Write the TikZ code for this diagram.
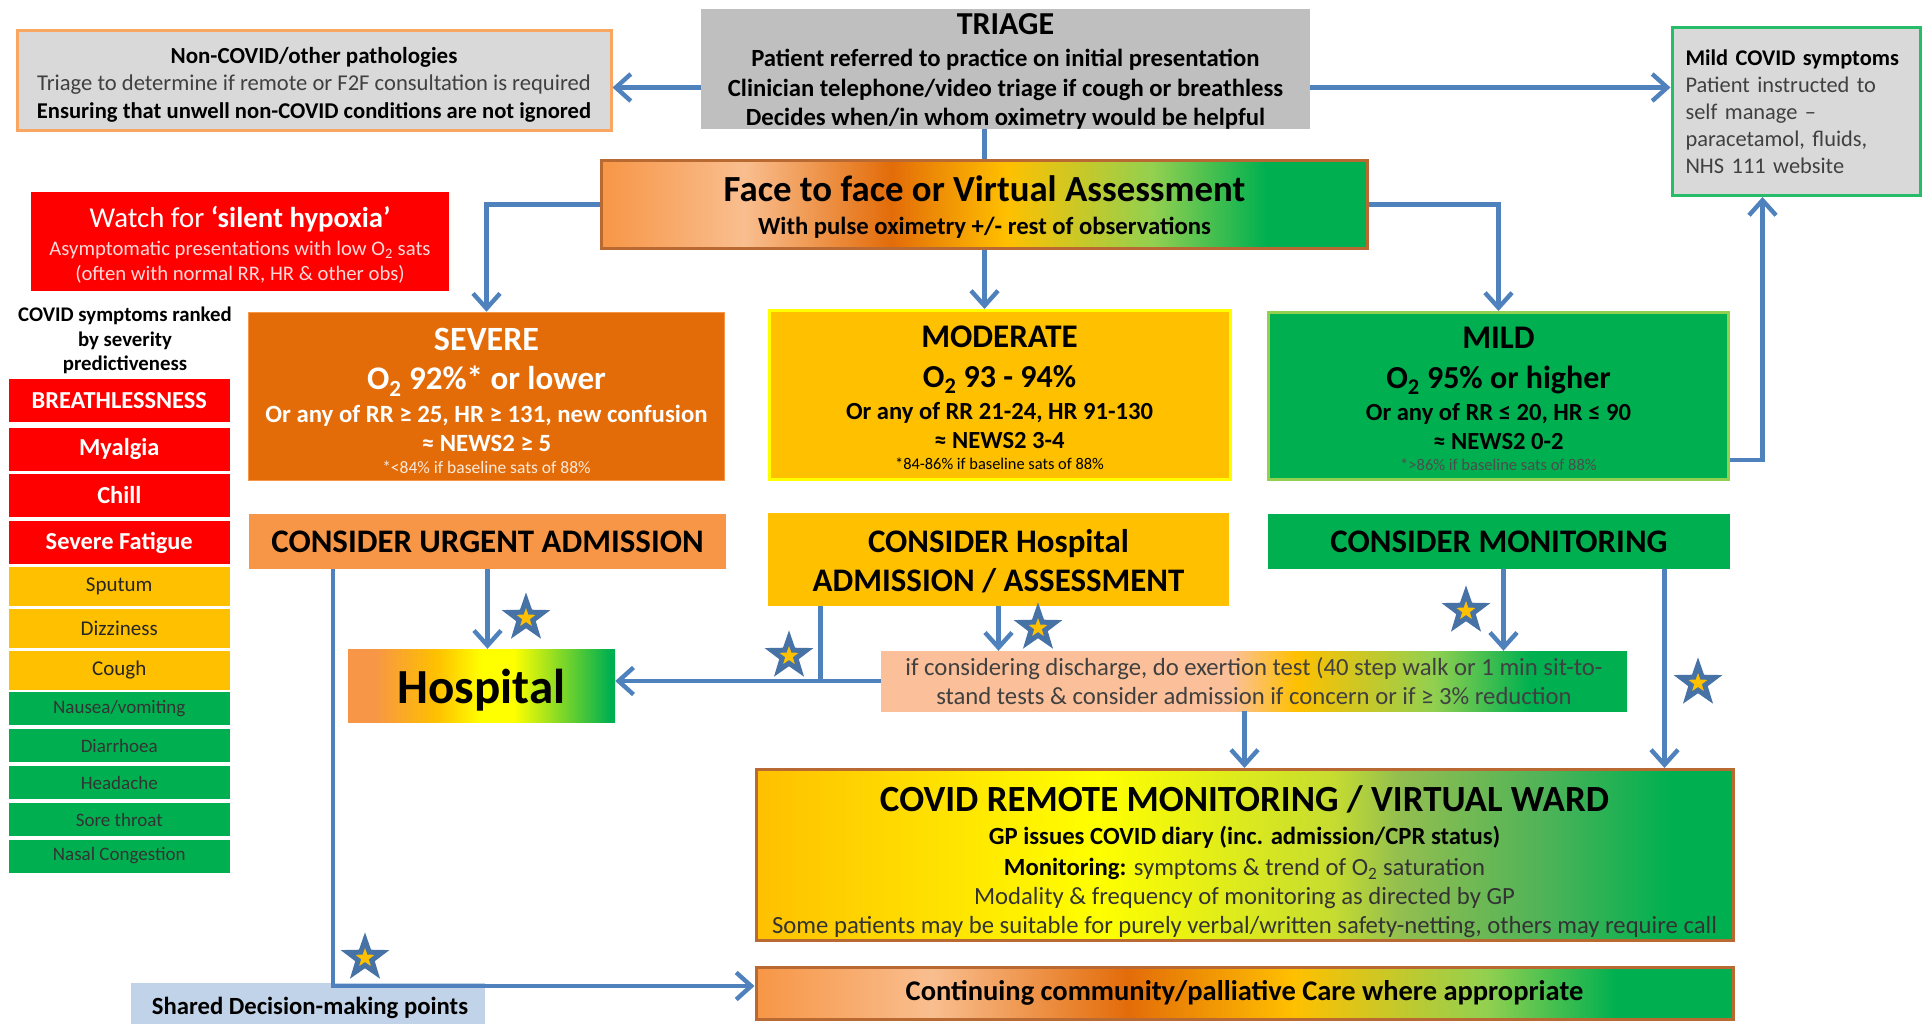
\documentclass[tikz,border=0pt]{standalone}
\usepackage{fontspec}
\setmainfont{Carlito}
\usetikzlibrary{arrows.meta,shapes.geometric}
\definecolor{cOr}{HTML}{F79646}
\definecolor{cLt}{HTML}{F9BE8F}
\definecolor{cDk}{HTML}{E36C09}
\definecolor{cAm}{HTML}{FFC000}
\definecolor{cYe}{HTML}{FFFF00}
\definecolor{cLg}{HTML}{92D050}
\definecolor{cGr}{HTML}{00B050}
\definecolor{cRd}{HTML}{FF0000}
\definecolor{cBl}{HTML}{4F81BD}
\definecolor{cBr}{HTML}{B96A33}
\definecolor{cPe}{HTML}{FBC099}
\definecolor{cM1}{HTML}{C6DC30}
\definecolor{cM2}{HTML}{92BE50}
\definecolor{cM3}{HTML}{4DB358}
\pgfdeclarehorizontalshading{gfa}{100bp}{color(0bp)=(cOr); color(25bp)=(cOr); color(34.3bp)=(cLt); color(43.9bp)=(cDk); color(51.45bp)=(cAm); color(61bp)=(cLg); color(68.35bp)=(cGr); color(100bp)=(cGr)}
\pgfdeclarehorizontalshading{gcont}{100bp}{color(0bp)=(cOr); color(25bp)=(cOr); color(34bp)=(cLt); color(44bp)=(cDk); color(52.5bp)=(cAm); color(62.35bp)=(cLg); color(69bp)=(cGr); color(100bp)=(cGr)}
\pgfdeclarehorizontalshading{ghosp}{100bp}{color(0bp)=(cOr); color(30bp)=(cOr); color(41.5bp)=(cAm); color(50bp)=(cYe); color(56bp)=(cYe); color(74bp)=(cGr); color(100bp)=(cGr)}
\pgfdeclarehorizontalshading{gifc}{100bp}{color(0bp)=(cPe); color(48.5bp)=(cPe); color(52.85bp)=(cAm); color(62bp)=(cLg); color(68.5bp)=(cGr); color(100bp)=(cGr)}
\pgfdeclarehorizontalshading{grem}{100bp}{color(0bp)=(cAm); color(25bp)=(cAm); color(42.5bp)=(cYe); color(54.5bp)=(cM1); color(58bp)=(cM2); color(65.5bp)=(cM3); color(71.75bp)=(cGr); color(100bp)=(cGr)}
\newcommand{\fs}[2]{\fontsize{#1}{#2}\selectfont}
\newcommand{\otwo}{O\textsubscript{2}}
\newcommand{\pad}[1]{\rule{0pt}{#1pt}}
\tikzset{
  box/.style={rectangle,inner sep=0pt,align=center,text=black,execute at begin node={\lineskiplimit=-100pt\relax}},
  wh/.style 2 args={minimum width=#1,minimum height=#2},
  gsh/.style={shade,shading=#1},
  symred/.style={box,fill=cRd,text=white,minimum width=220.5pt,font=\fs{24.4}{24}\bfseries},
  symamb/.style={box,fill=cAm,text=black!85,minimum width=220.5pt,font=\fs{21}{21}},
  symgrn/.style={box,fill=cGr,text=black!80,minimum width=220.5pt,font=\fs{19}{19}},
  arr/.style={draw=cBl,line width=4.4pt,-{Straight Barb[length=15pt,width=27pt,line width=4.4pt]}},
  lin/.style={draw=cBl,line width=4.4pt},
  starmark/.style={star,star points=5,star point ratio=2.5,minimum size=36pt,inner sep=0pt,fill=cAm,draw=cBl!88!black,line width=5pt}
}
\begin{document}
\begin{tikzpicture}[x=1pt,y=-1pt]
\useasboundingbox (0,0) rectangle (1924,1024);
\node[box,wh={594pt}{100pt},fill=black!15,draw=cOr!85,line width=3pt,font=\fs{22.6}{27.5}] (noncov) at (314,80.5) {\pad{24}\fs{23}{27.5}\textbf{Non-COVID/other pathologies}\\ \textcolor{black!75}{Triage to determine if remote or F2F consultation is required}\\ \textbf{Ensuring that unwell non-COVID conditions are not ignored}};
\node[box,wh={609pt}{120pt},fill=black!25,font=\fs{24.7}{29.5}\bfseries] (triage) at (1005.5,69) {\pad{22}\fs{32}{29.5}TRIAGE\\[3pt] Patient referred to practice on initial presentation\\ Clinician telephone/video triage if cough or breathless\\ \smash{Decides when/in whom oximetry would be helpful}};
\node[box,wh={248pt}{168pt},fill=black!15,draw=cGr!85,line width=3pt,align=left,text width=221pt,text=black!75,font=\fs{22.4}{27}] (mildsx) at (1796,111.5) {\textbf{\textcolor{black}{Mild COVID symptoms}}\\ Patient instructed to\\ self manage --\\ paracetamol, fluids,\\ NHS 111 website};
\node[box,wh={766pt}{88pt},gsh=gfa,draw=cBr,line width=3pt,font=\fs{24.7}{33}\bfseries] (f2f) at (984.5,204.5) {\pad{31.5}\fs{36.8}{33}Face to face or Virtual Assessment\\ With pulse oximetry +/- rest of observations};
\node[box,wh={418pt}{99pt},fill=cRd,text=white,font=\fs{20.7}{25}] (watch) at (240,241.5) {\pad{27}\fs{28.8}{25}Watch for \textbf{‘silent hypoxia’}\\[3pt] \textcolor{white!85!cRd}{Asymptomatic presentations with low \otwo{} sats}\\ \textcolor{white!85!cRd}{(often with normal RR, HR \& other obs)}};
\node[box,wh={476pt}{168pt},fill=cDk,draw=cOr,line width=1.5pt,text=white,font=\fs{24.8}{22.6}\bfseries] (severe) at (486.5,396.5) {\pad{32}\fs{34}{22.6}SEVERE\\[16.4pt] \fs{33}{22.6}\otwo{} 92\%* or lower\\[9.8pt] Or any of RR ≥ 25, HR ≥ 131, new confusion\\[6.4pt] ≈ NEWS2 ≥ 5\\ \fs{17.5}{22.6}\mdseries\textcolor{white!85!cDk}{*<84\% if baseline sats of 88\%}};
\node[box,wh={461pt}{169pt},fill=cAm,draw=cYe,line width=3pt,font=\fs{24.6}{20.6}\bfseries] (moderate) at (999.5,395) {\pad{27.3}\fs{33}{20.6}MODERATE\\[19pt] \fs{32}{20.6}\otwo{} 93 - 94\%\\[12.2pt] Or any of RR 21-24, HR 91-130\\[8.4pt] ≈ NEWS2 3-4\\ \fs{16.4}{20.6}\mdseries *84-86\% if baseline sats of 88\%};
\node[box,wh={460pt}{167pt},fill=cGr,draw=cLg,line width=3pt,font=\fs{24.6}{20.6}\bfseries] (mild) at (1498.5,396) {\pad{27.3}\fs{33}{20.6}MILD\\[19pt] \fs{32}{20.6}\otwo{} 95\% or higher\\[12.2pt] Or any of RR ≤ 20, HR ≤ 90\\[8.4pt] ≈ NEWS2 0-2\\ \fs{16.5}{20.6}\mdseries\textcolor{black!70}{*>86\% if baseline sats of 88\%}};
\node[box,font=\fs{20.8}{24.5}\bfseries] (title) at (125,340.5) {COVID symptoms ranked\\ by severity\\ predictiveness};
\node[symred,minimum height=43pt] (s1) at (119.25,400.5) {BREATHLESSNESS};
\node[symred,minimum height=43pt] (s2) at (119.25,449.5) {Myalgia};
\node[symred,minimum height=43pt] (s3) at (119.25,495.5) {Chill};
\node[symred,minimum height=43pt] (s4) at (119.25,542.5) {Severe Fatigue};
\node[symamb,minimum height=39pt] (s5) at (119.25,586.5) {Sputum};
\node[symamb,minimum height=39pt] (s6) at (119.25,628.5) {Dizziness};
\node[symamb,minimum height=39pt] (s7) at (119.25,670.5) {Cough};
\node[symgrn,minimum height=33pt] (s8) at (119.25,708.5) {Nausea/vomiting};
\node[symgrn,minimum height=33pt] (s9) at (119.25,745.5) {Diarrhoea};
\node[symgrn,minimum height=33pt] (s10) at (119.25,782.5) {Headache};
\node[symgrn,minimum height=33pt] (s11) at (119.25,819.5) {Sore throat};
\node[symgrn,minimum height=33pt] (s12) at (119.25,856) {Nasal Congestion};
\node[box,wh={477pt}{55pt},fill=cOr,font=\fs{32.9}{32}\bfseries] (urgent) at (487.5,541.5) {CONSIDER URGENT ADMISSION};
\node[box,wh={461pt}{93pt},fill=cAm,font=\fs{32.9}{39.5}\bfseries] (chosp) at (998.5,559.5) {\pad{26}CONSIDER Hospital\\ ADMISSION / ASSESSMENT};
\node[box,wh={462pt}{55pt},fill=cGr,font=\fs{32.9}{32}\bfseries] (cmon) at (1499,541.5) {CONSIDER MONITORING};
\node[box,wh={267pt}{73pt},gsh=ghosp,font=\fs{49}{49}\bfseries] (hospital) at (481.5,685.5) {\pad{43}Hospital};
\node[box,wh={746pt}{60pt},gsh=gifc,text=black!75,font=\fs{24.7}{29}] (ifc) at (1254,681) {if considering discharge, do exertion test (40 step walk or 1 min sit-to-\\ stand tests \& consider admission if concern or if ≥ 3\% reduction};
\node[box,wh={977pt}{171pt},gsh=grem,draw=cBr,line width=3pt,text=black!80,font=\fs{24.7}{29}] (remote) at (1244.5,855) {\pad{38.7}\fs{36.9}{29}\textcolor{black}{\textbf{COVID REMOTE MONITORING / VIRTUAL WARD}}\\[4.4pt] \textcolor{black}{\textbf{GP issues COVID diary (inc. admission/CPR status)}}\\[2pt] \textcolor{black}{\textbf{Monitoring:}} symptoms \& trend of \otwo{} saturation\\ Modality \& frequency of monitoring as directed by GP\\ Some patients may be suitable for purely verbal/written safety-netting, others may require call};
\node[box,wh={977pt}{52pt},gsh=gcont,draw=cBr,line width=3pt,font=\fs{28.5}{28}\bfseries] (cont) at (1244.5,993) {Continuing community/palliative Care where appropriate};
\node[box,wh={354pt}{41pt},fill=cBl!35!white,font=\fs{24.7}{24}\bfseries] (shared) at (308,1003.5) {\pad{27}\hspace*{4pt}Shared Decision-making points};
\draw[arr] ([yshift=-18.5pt]triage.west) -- ([yshift=-7pt]noncov.east);
\draw[arr] ([yshift=-18.5pt]triage.east) -- ([yshift=24pt]mildsx.west);
\draw[lin] (triage.south -| f2f.north) -- (f2f.north);
\draw[arr] (f2f.west) -| (severe.north);
\draw[arr] (f2f.south) -- (f2f.south |- moderate.north);
\draw[arr] (f2f.east) -| (mild.north);
\draw[arr] ([yshift=-64pt]mild.east) -| ([xshift=-33.5pt]mildsx.south);
\draw[arr] (urgent.south) -- (urgent.south |- hospital.north);
\draw[arr] ([xshift=-154.5pt]urgent.south) |- ([yshift=7pt]cont.west);
\draw[arr] (chosp.south) -- (chosp.south |- ifc.north);
\draw[lin] ([xshift=-178pt]chosp.south) |- (ifc.west);
\draw[arr] (ifc.west) -- (ifc.west -| hospital.east);
\draw[arr] ([xshift=4.5pt]cmon.south) -- ([xshift=4.5pt]cmon.south |- ifc.north);
\draw[arr] ([xshift=165.5pt]cmon.south) -- ([xshift=165.5pt]cmon.south |- remote.north);
\draw[arr] (ifc.south -| remote.north) -- (remote.north);
\node[starmark] (st1) at (526,618) {};
\node[starmark] (st2) at (365,958) {};
\node[starmark] (st3) at (789,656) {};
\node[starmark] (st4) at (1038,628) {};
\node[starmark] (st5) at (1466,611) {};
\node[starmark] (st6) at (1698,683) {};
\end{tikzpicture}
\end{document}
